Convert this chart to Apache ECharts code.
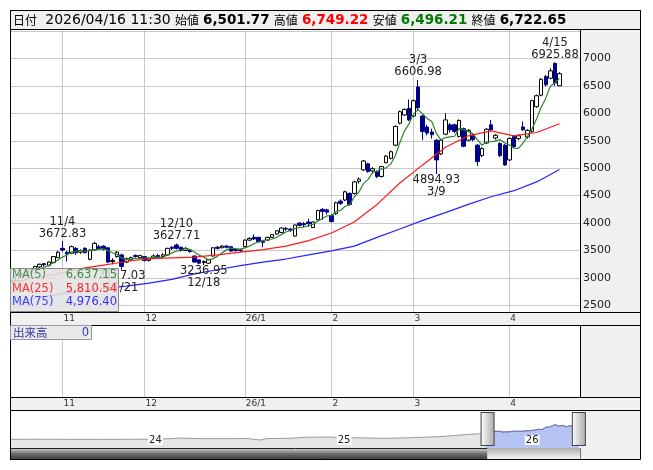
<!DOCTYPE html>
<html>
<head>
<meta charset="utf-8">
<script src="https://cdn.jsdelivr.net/npm/echarts@6/dist/echarts.min.js"></script>
<style>
html, body { margin: 0; padding: 0; background: #fff; }
#main { width: 653px; height: 470px; }
</style>
</head>
<body>
<div id="main"></div>
<script>
// 日足データ (2025/10/17 - 2026/04/16)
var dates = [
  '2025-10-17','2025-10-20','2025-10-21','2025-10-22','2025-10-23','2025-10-24','2025-10-27','2025-10-28','2025-10-29','2025-10-30','2025-10-31',
  '2025-11-04','2025-11-05','2025-11-06','2025-11-07','2025-11-10','2025-11-11','2025-11-12','2025-11-13','2025-11-14','2025-11-17','2025-11-18','2025-11-19','2025-11-20','2025-11-21','2025-11-25','2025-11-26','2025-11-27','2025-11-28',
  '2025-12-01','2025-12-02','2025-12-03','2025-12-04','2025-12-05','2025-12-08','2025-12-09','2025-12-10','2025-12-11','2025-12-12','2025-12-15','2025-12-16','2025-12-17','2025-12-18','2025-12-19','2025-12-22','2025-12-23','2025-12-24','2025-12-25','2025-12-26','2025-12-29','2025-12-30',
  '2026-01-05','2026-01-06','2026-01-07','2026-01-08','2026-01-09','2026-01-13','2026-01-14','2026-01-15','2026-01-16','2026-01-19','2026-01-20','2026-01-21','2026-01-22','2026-01-23','2026-01-26','2026-01-27','2026-01-28','2026-01-29','2026-01-30',
  '2026-02-02','2026-02-03','2026-02-04','2026-02-05','2026-02-06','2026-02-09','2026-02-10','2026-02-12','2026-02-13','2026-02-16','2026-02-17','2026-02-18','2026-02-19','2026-02-20','2026-02-24','2026-02-25','2026-02-26','2026-02-27',
  '2026-03-02','2026-03-03','2026-03-04','2026-03-05','2026-03-06','2026-03-09','2026-03-10','2026-03-11','2026-03-12','2026-03-13','2026-03-16','2026-03-17','2026-03-18','2026-03-19','2026-03-23','2026-03-24','2026-03-25','2026-03-26','2026-03-27','2026-03-30','2026-03-31',
  '2026-04-01','2026-04-02','2026-04-03','2026-04-06','2026-04-07','2026-04-08','2026-04-09','2026-04-10','2026-04-13','2026-04-14','2026-04-15','2026-04-16'
];
// 始値
var opens = [
  2960,2940,3080,3060,3110,3150,3200,3260,3230,3280,3370,
  3540,3470,3450,3540,3470,3540,3340,3510,3570,3580,3550,3300,3390,3420,3290,3330,3410,3370,
  3390,3320,3360,3410,3390,3420,3560,3600,3560,3500,3510,3400,3330,3280,3270,3400,3560,3550,3580,3570,3520,3510,
  3570,3690,3740,3740,3670,3690,3740,3800,3830,3900,3890,3764,4000,3990,4020,3920,4060,4250,4240,
  4140,4170,4400,4420,4540,4540,4760,4970,5080,4950,4940,4850,5100,5180,5420,5820,5970,6090,
  5950,6480,5950,5750,5660,5510,5260,5620,5790,5790,5580,5720,5510,5600,5420,5230,5460,5790,5550,5450,5420,
  5150,5580,5540,5750,5570,5670,6120,6330,6670,6640,6910,6501.77
];
// 終値
var closes = [
  2920,3050,3060,3110,3160,3210,3250,3240,3290,3390,3470,
  3510,3440,3570,3460,3500,3460,3510,3630,3530,3530,3290,3320,3470,3210,3350,3370,3390,3410,
  3320,3350,3400,3390,3420,3540,3540,3540,3500,3540,3480,3290,3270,3300,3330,3550,3540,3580,3560,3490,3500,3500,
  3690,3720,3710,3660,3650,3740,3790,3860,3910,3890,3870,3965,3960,3970,3990,4020,4230,4210,4200,
  4030,4370,4360,4570,4340,4750,4800,5130,4940,4990,4850,5030,5220,5300,5760,6030,6070,5880,
  6230,6100,5670,5640,5610,5150,5510,5880,5700,5670,5870,5400,5690,5520,5120,5360,5710,5700,5600,5230,5060,
  5540,5390,5590,5700,5690,6230,6320,6620,6520,6773.1,6550,6722.65
];
// 安値
var lows = [
  2890,2930,3030,3040,3090,3140,3180,3210,3210,3270,3360,
  3480,3300,3440,3420,3440,3450,3320,3500,3510,3500,3270,3250,3370,3157.03,3270,3310,3370,3350,
  3300,3300,3340,3370,3370,3410,3510,3520,3480,3490,3460,3280,3250,3236.95,3260,3390,3520,3540,3540,3480,3480,3470,
  3560,3670,3690,3650,3560,3680,3730,3790,3820,3860,3840,3750,3940,3930,3930,3910,4050,4060,4160,
  4010,4150,4330,4400,4320,4520,4720,4950,4920,4900,4820,4830,5090,5160,5400,5800,5950,5860,
  5930,6060,5510,5600,5540,4894.93,5240,5600,5650,5640,5560,5380,5490,5490,5040,5200,5440,5680,5520,5200,5040,
  5130,5370,5510,5680,5540,5650,6100,6310,6490,6620,6500,6496.21
];
// 高値
var highs = [
  2990,3060,3100,3120,3180,3220,3260,3270,3300,3400,3490,
  3672.83,3490,3590,3560,3520,3560,3520,3660,3600,3600,3560,3360,3490,3440,3370,3390,3430,3420,
  3400,3370,3430,3440,3450,3550,3580,3627.71,3570,3560,3520,3410,3340,3320,3340,3560,3580,3600,3600,3580,3540,3530,
  3700,3740,3795,3750,3680,3750,3800,3870,3920,3930,3910,3975,4010,4020,4080,4030,4240,4270,4260,
  4160,4390,4430,4590,4560,4770,4830,5150,5100,5020,4960,5040,5240,5320,5780,6050,6090,6250,
  6250,6606.98,5980,5790,5720,5530,5530,6000,5820,5810,5890,5740,5710,5620,5440,5380,5730,5880,5620,5470,5440,
  5560,5600,5620,5850,5710,6250,6340,6640,6700,6820,6925.88,6749.22
];
var asOfTime = '11:30';
var lastVolume = 0;

// 移動平均線 (25日・75日) は5営業日ごとに読み取り
var maSampleIdx = [0,5,10,15,20,25,30,35,40,45,50,55,60,65,70,75,80,85,90,95,100,105,110,115,120];
var ma25Samples = [2920,3000,3080,3170,3235,3300,3350,3365,3380,3420,3470,3515,3580,3680,3820,4020,4340,4730,5060,5380,5590,5680,5590,5650,5810.54];
var ma75Samples = [2560,2630,2700,2760,2810,2850,2905,2975,3075,3150,3225,3290,3345,3420,3495,3580,3740,3892,4050,4190,4340,4480,4590,4750,4976.40];

// 高値・安値の注記
var peakDays = ['2025-11-04','2025-12-10','2026-03-03','2026-04-15'];
var troughDays = ['2025-11-21','2025-12-18','2026-03-09'];

// ナビゲーター (長期推移)
var navHistDates = ['2023-04-10','2023-06-01','2023-08-01','2023-10-02','2023-12-01','2024-01-15','2024-02-15','2024-03-05','2024-04-15','2024-06-03','2024-07-10','2024-08-05','2024-08-20','2024-10-01','2024-11-05','2024-12-18','2025-01-10','2025-02-20','2025-04-07','2025-05-22','2025-06-20','2025-07-18','2025-08-13','2025-09-10','2025-10-03','2025-10-16'];
var navHistValues = [1750,1760,1750,1745,1755,1780,1850,1960,1850,1850,1880,1650,1880,1910,2100,2140,2020,1990,1900,2010,2100,2200,2390,2650,2850,2940];
var navStart = '2023-04-08';
var navEnd = '2026-04-18';

function fmt(v) {
  var s = v.toFixed(2).split('.');
  return s[0].replace(/\B(?=(\d{3})+(?!\d))/g, ',') + '.' + s[1];
}
function md(d) {
  return (+d.slice(5, 7)) + '/' + (+d.slice(8, 10));
}
// 月初かどうか
function isMonthStart(idx) {
  if (idx <= 0 || idx >= dates.length) return false;
  return dates[idx].slice(5, 7) !== dates[idx - 1].slice(5, 7);
}
function monthLabel(val) {
  var m = +val.slice(5, 7);
  return m === 1 ? val.slice(2, 4) + '/1' : String(m);
}

var n = dates.length;
var last = n - 1;
var categories = dates.concat(['p1', 'p2', 'p3', 'p4']);

var ma5 = closes.map(function (c, i) {
  if (i < 4) return '-';
  var s = 0;
  for (var k = i - 4; k <= i; k++) s += closes[k];
  return +(s / 5).toFixed(2);
});
function sparse(samples) {
  var arr = dates.map(function () { return '-'; });
  maSampleIdx.forEach(function (idx, j) { arr[idx] = samples[j]; });
  return arr;
}
var ma25 = sparse(ma25Samples);
var ma75 = sparse(ma75Samples);

var candleData = dates.map(function (d, i) {
  return [opens[i], closes[i], lows[i], highs[i]];
});

var markData = [];
peakDays.forEach(function (d) {
  var i = dates.indexOf(d);
  markData.push({ coord: [d, highs[i]], label: { position: 'top', distance: 1, formatter: md(d) + '\n' + highs[i].toFixed(2) } });
});
troughDays.forEach(function (d) {
  var i = dates.indexOf(d);
  markData.push({ coord: [d, lows[i]], label: { position: 'bottom', distance: 0, formatter: lows[i].toFixed(2) + '\n' + md(d) } });
});

var navAll = navHistDates.map(function (d, i) { return [d, navHistValues[i]]; })
  .concat(dates.map(function (d, i) { return [d, closes[i]]; }));
var navSel = dates.map(function (d, i) { return [d, closes[i]]; });

var catAxisLabel = {
  show: true,
  margin: 2,
  fontFamily: 'DejaVu Sans',
  fontSize: 9,
  color: '#333',
  align: 'left',
  padding: [0, 0, 0, 1],
  interval: function (idx) { return isMonthStart(idx); },
  formatter: function (val) { return monthLabel(val); }
};
var catSplit = {
  show: true,
  alignWithLabel: true,
  interval: function (idx) { return isMonthStart(idx); },
  lineStyle: { color: '#c8c8c8', width: 1 }
};

var grey = '#f0f0f0';
var sliderBase = {
  type: 'slider', xAxisIndex: 3, filterMode: 'none',
  startValue: dates[0], endValue: dates[last],
  left: 10, width: 570,
  showDataShadow: false, showDetail: false, brushSelect: false, zoomLock: true,
  backgroundColor: 'rgba(0,0,0,0)', borderColor: 'rgba(0,0,0,0)'
};

var myChart = echarts.init(document.getElementById('main'));
var option = {
  animation: false,
  backgroundColor: '#ffffff',
  textStyle: { fontFamily: 'DejaVu Sans' },
  grid: [
    { left: 10, top: 29, width: 570, height: 283 },
    { left: 10, top: 325, width: 570, height: 72 },
    { left: 10, top: 410, width: 570, height: 38 },
    { left: 10, top: 410, width: 570, height: 38 }
  ],
  xAxis: [
    { type: 'category', gridIndex: 0, data: categories, boundaryGap: true,
      axisLine: { show: false }, axisTick: { show: false },
      axisLabel: catAxisLabel, splitLine: catSplit },
    { type: 'category', gridIndex: 1, data: categories, boundaryGap: true,
      axisLine: { show: false }, axisTick: { show: false },
      axisLabel: catAxisLabel, splitLine: catSplit },
    { type: 'time', gridIndex: 2, min: navStart, max: navEnd, z: 10,
      splitNumber: 3, minInterval: 365 * 86400000, maxInterval: 366 * 86400000,
      axisLine: { show: false }, axisTick: { show: false }, splitLine: { show: false },
      axisLabel: {
        inside: true, margin: 3, fontFamily: 'DejaVu Sans', fontSize: 10, color: '#222',
        align: 'left', backgroundColor: '#ffffff', padding: [0, 1, 0, 1],
        showMinLabel: false, showMaxLabel: false,
        formatter: function (v) {
          var d = new Date(v);
          return (d.getMonth() === 0 && d.getDate() === 1) ? String(d.getFullYear()).slice(2) : '';
        }
      } },
    { type: 'time', gridIndex: 3, min: navStart, max: navEnd, show: false }
  ],
  yAxis: [
    { type: 'value', gridIndex: 0, position: 'right', min: 2380, max: 7536, splitNumber: 10,
      axisLine: { show: false }, axisTick: { show: false },
      axisLabel: {
        margin: 3, fontFamily: 'DejaVu Sans', fontSize: 11, color: '#222',
        formatter: function (v) { return (v % 500 === 0 && v <= 7000) ? String(v) : ''; }
      },
      splitLine: { lineStyle: { color: '#c8c8c8', width: 1 } } },
    { type: 'value', gridIndex: 1, min: 0, max: 1, show: false },
    { type: 'log', gridIndex: 2, min: 826, max: 22180, show: false },
    { type: 'value', gridIndex: 3, show: false, scale: true }
  ],
  dataZoom: [
    // スクロールバーのつまみ
    echarts.util.merge({
      top: 448, height: 11,
      fillerColor: new echarts.graphic.LinearGradient(0, 0, 0, 1, [
        { offset: 0, color: '#f6f6f6' }, { offset: 1, color: '#b0b0b0' }
      ]),
      handleIcon: 'path://M0,0H1V1H0Z', handleSize: 1, handleStyle: { opacity: 0 },
      moveHandleSize: 0
    }, sliderBase, true),
    // 範囲ハンドル
    echarts.util.merge({
      top: 410, height: 38,
      fillerColor: 'rgba(0,0,0,0)',
      handleIcon: 'path://M0,0H13V33H0Z', handleSize: '87%',
      handleStyle: {
        color: new echarts.graphic.LinearGradient(0, 0, 1, 0, [
          { offset: 0, color: '#ffffff' }, { offset: 1, color: '#a8a8a8' }
        ]),
        borderColor: '#444', borderWidth: 1
      },
      moveHandleSize: 0
    }, sliderBase, true)
  ],
  series: [
    { name: 'ローソク足', type: 'candlestick', xAxisIndex: 0, yAxisIndex: 0, data: candleData,
      barWidth: 4, silent: true,
      itemStyle: { color: '#ffffff', color0: '#000088', borderColor: '#000000', borderColor0: '#000088', borderWidth: 1 },
      markPoint: {
        symbol: 'rect', symbolSize: 1, itemStyle: { color: 'rgba(0,0,0,0)' }, silent: true,
        label: { show: true, color: '#222', fontFamily: 'DejaVu Sans', fontSize: 11.5, lineHeight: 12 },
        data: markData
      } },
    { name: 'MA(5)', type: 'line', xAxisIndex: 0, yAxisIndex: 0, data: ma5, symbol: 'none', silent: true,
      z: 3, lineStyle: { color: '#2a862a', width: 1.2 } },
    { name: 'MA(25)', type: 'line', xAxisIndex: 0, yAxisIndex: 0, data: ma25, symbol: 'none', silent: true,
      connectNulls: true, z: 3, lineStyle: { color: '#ff1a1a', width: 1.2 } },
    { name: 'MA(75)', type: 'line', xAxisIndex: 0, yAxisIndex: 0, data: ma75, symbol: 'none', silent: true,
      connectNulls: true, z: 3, lineStyle: { color: '#2424ff', width: 1.2 } },
    { name: 'nav', type: 'line', xAxisIndex: 2, yAxisIndex: 2, data: navAll, symbol: 'none', silent: true,
      lineStyle: { color: '#9a9a9a', width: 1 }, areaStyle: { color: '#e6e6e6', origin: 'start', opacity: 1 } },
    { name: 'navSel', type: 'line', xAxisIndex: 2, yAxisIndex: 2, data: navSel, symbol: 'none', silent: true,
      lineStyle: { color: '#6c6cc4', width: 1 }, areaStyle: { color: '#b6c4f4', origin: 'start', opacity: 1 } },
    { name: 'dummy', type: 'line', xAxisIndex: 3, yAxisIndex: 3, data: navSel, symbol: 'none', silent: true,
      lineStyle: { opacity: 0 } }
  ],
  graphic: [
    // 背景
    { type: 'rect', z: -1, silent: true, shape: { x: 580, y: 29, width: 60, height: 430 }, style: { fill: grey } },
    { type: 'rect', z: -1, silent: true, shape: { x: 10, y: 312, width: 630, height: 13 }, style: { fill: grey } },
    { type: 'rect', z: -1, silent: true, shape: { x: 10, y: 397, width: 630, height: 13 }, style: { fill: grey } },
    // スクロールバーの溝
    { type: 'rect', z: -1, silent: true, shape: { x: 10.5, y: 448.5, width: 570, height: 11 },
      style: { fill: new echarts.graphic.LinearGradient(0, 0, 0, 1, [
        { offset: 0, color: '#d8d8d8' }, { offset: 0.5, color: '#6a6a6a' }, { offset: 1, color: '#3a3a3a' }
      ]), stroke: '#222', lineWidth: 1 } },
    // ヘッダー
    { type: 'rect', z: 20, silent: true, shape: { x: 10.5, y: 10.5, width: 630, height: 19 }, style: { fill: grey, stroke: '#000', lineWidth: 1 } },
    { type: 'text', z: 21, silent: true, x: 13, y: 20,
      style: {
        text: '{k|日付}  {n|' + dates[last].replace(/-/g, '/') + ' ' + asOfTime + '} {k|始値} {b|' + fmt(opens[last]) +
          '} {k|高値} {r|' + fmt(highs[last]) + '} {k|安値} {g|' + fmt(lows[last]) + '} {k|終値} {b|' + fmt(closes[last]) + '}',
        verticalAlign: 'middle', align: 'left', fontSize: 13, fontFamily: 'DejaVu Sans', fill: '#000',
        rich: {
          k: { fontFamily: 'Noto Sans CJK JP', fontSize: 12, fill: '#000' },
          n: { fontFamily: 'DejaVu Sans', fontSize: 14, fill: '#000' },
          b: { fontFamily: 'DejaVu Sans', fontSize: 13.5, fontWeight: 'bold', fill: '#000' },
          r: { fontFamily: 'DejaVu Sans', fontSize: 13.5, fontWeight: 'bold', fill: '#ff0000' },
          g: { fontFamily: 'DejaVu Sans', fontSize: 13.5, fontWeight: 'bold', fill: '#007a00' }
        }
      } },
    // 枠線
    { type: 'rect', z: 20, silent: true, shape: { x: 10.5, y: 10.5, width: 630, height: 449 }, style: { fill: 'none', stroke: '#000', lineWidth: 1 } },
    { type: 'line', z: 20, silent: true, shape: { x1: 10, y1: 312.5, x2: 640, y2: 312.5 }, style: { stroke: '#000', lineWidth: 1 } },
    { type: 'line', z: 20, silent: true, shape: { x1: 10, y1: 325.5, x2: 640, y2: 325.5 }, style: { stroke: '#000', lineWidth: 1 } },
    { type: 'line', z: 20, silent: true, shape: { x1: 10, y1: 397.5, x2: 640, y2: 397.5 }, style: { stroke: '#000', lineWidth: 1 } },
    { type: 'line', z: 20, silent: true, shape: { x1: 10, y1: 410.5, x2: 640, y2: 410.5 }, style: { stroke: '#000', lineWidth: 1 } },
    { type: 'line', z: 20, silent: true, shape: { x1: 580.5, y1: 29.5, x2: 580.5, y2: 312.5 }, style: { stroke: '#000', lineWidth: 1 } },
    { type: 'line', z: 20, silent: true, shape: { x1: 580.5, y1: 325.5, x2: 580.5, y2: 397.5 }, style: { stroke: '#000', lineWidth: 1 } },
    // 移動平均の凡例
    { type: 'rect', z: 30, silent: true, shape: { x: 10.5, y: 268.5, width: 108, height: 43 }, style: { fill: 'rgba(226,226,226,0.88)', stroke: '#8a8a8a', lineWidth: 1 } },
    { type: 'text', z: 31, silent: true, x: 12, y: 275.5, style: { text: 'MA(5)', fill: '#4f8f4f', fontSize: 11.5, fontFamily: 'DejaVu Sans', verticalAlign: 'middle' } },
    { type: 'text', z: 31, silent: true, x: 117, y: 275.5, style: { text: fmt(ma5[last]), fill: '#3a8a3a', fontSize: 11.5, fontFamily: 'DejaVu Sans', align: 'right', verticalAlign: 'middle' } },
    { type: 'text', z: 31, silent: true, x: 12, y: 289, style: { text: 'MA(25)', fill: '#ff3030', fontSize: 11.5, fontFamily: 'DejaVu Sans', verticalAlign: 'middle' } },
    { type: 'text', z: 31, silent: true, x: 117, y: 289, style: { text: fmt(ma25[last]), fill: '#ff2020', fontSize: 11.5, fontFamily: 'DejaVu Sans', align: 'right', verticalAlign: 'middle' } },
    { type: 'text', z: 31, silent: true, x: 12, y: 302.5, style: { text: 'MA(75)', fill: '#4040ff', fontSize: 11.5, fontFamily: 'DejaVu Sans', verticalAlign: 'middle' } },
    { type: 'text', z: 31, silent: true, x: 117, y: 302.5, style: { text: fmt(ma75[last]), fill: '#3030ff', fontSize: 11.5, fontFamily: 'DejaVu Sans', align: 'right', verticalAlign: 'middle' } },
    // 出来高ラベル
    { type: 'rect', z: 30, silent: true, shape: { x: 10.5, y: 325.5, width: 81, height: 14 }, style: { fill: '#e8e8e8', stroke: '#9a9a9a', lineWidth: 1 } },
    { type: 'text', z: 31, silent: true, x: 13, y: 333, style: { text: '出来高', fill: '#3535a5', fontSize: 11.5, fontFamily: 'Noto Sans CJK JP', verticalAlign: 'middle' } },
    { type: 'text', z: 31, silent: true, x: 89, y: 333, style: { text: String(lastVolume), fill: '#3535c5', fontSize: 11.5, fontFamily: 'DejaVu Sans', align: 'right', verticalAlign: 'middle' } }
  ]
};
myChart.setOption(option);
</script>
</body>
</html>
